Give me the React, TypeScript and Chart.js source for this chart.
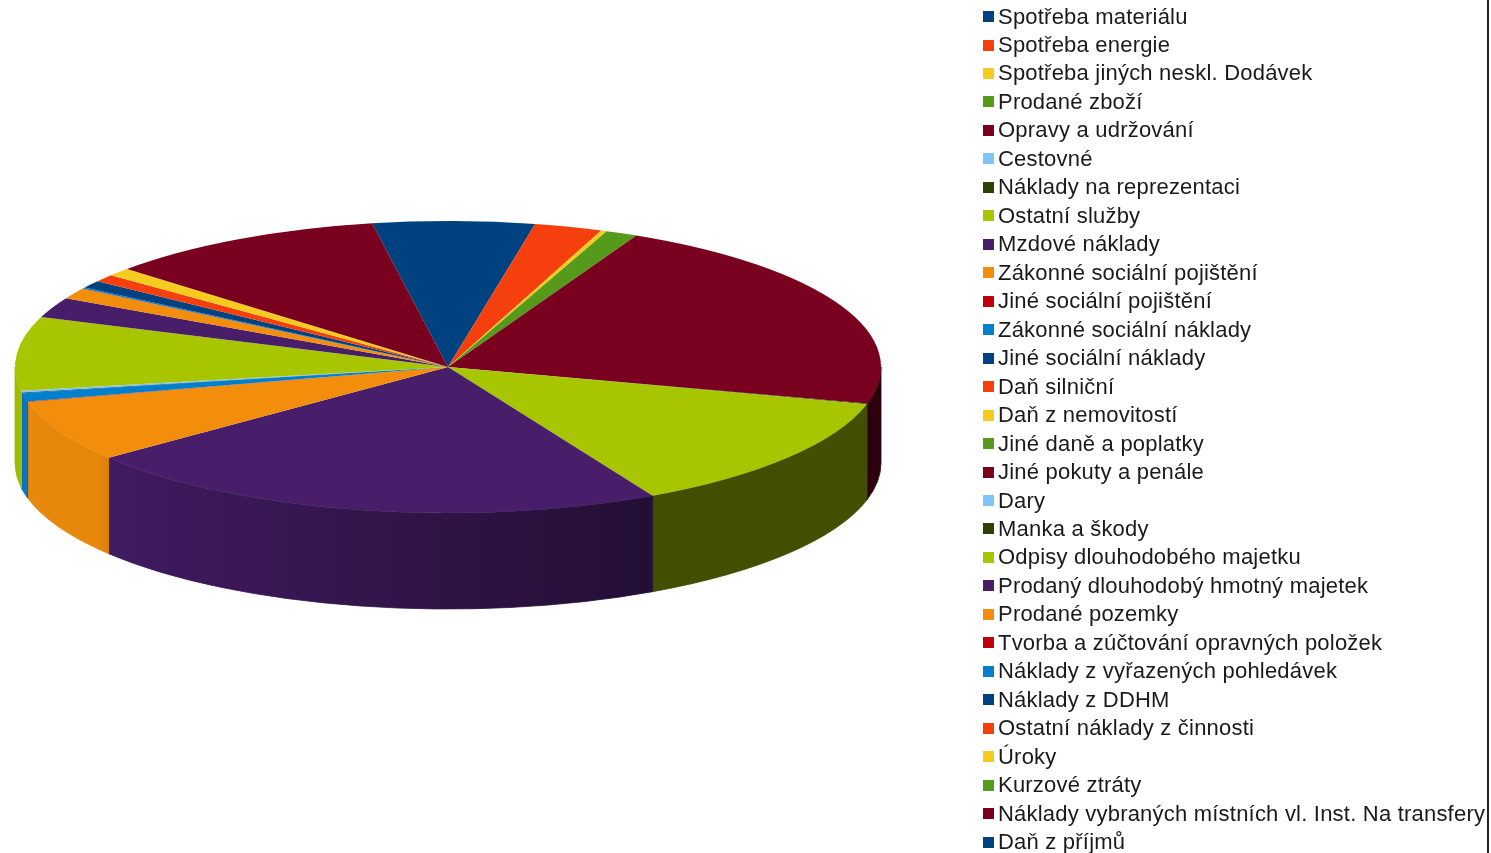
import React, { useEffect, useRef } from "react";
import { Chart, registerables } from "chart.js";

Chart.register(...registerables);

const categories = [
  "Spotřeba materiálu", "Spotřeba energie", "Spotřeba jiných neskl. Dodávek", "Prodané zboží",
  "Opravy a udržování", "Cestovné", "Náklady na reprezentaci", "Ostatní služby", "Mzdové náklady",
  "Zákonné sociální pojištění", "Jiné sociální pojištění", "Zákonné sociální náklady",
  "Jiné sociální náklady", "Daň silniční", "Daň z nemovitostí", "Jiné daně a poplatky",
  "Jiné pokuty a penále", "Dary", "Manka a škody", "Odpisy dlouhodobého majetku",
  "Prodaný dlouhodobý hmotný majetek", "Prodané pozemky", "Tvorba a zúčtování opravných položek",
  "Náklady z vyřazených pohledávek", "Náklady z DDHM", "Ostatní náklady z činnosti", "Úroky",
  "Kurzové ztráty", "Náklady vybraných místních vl. Inst. Na transfery", "Daň z příjmů",
];
const values = [
  6.03, 2.53, 0.22, 1.19, 21.86, 0.01, 0.06, 13.07, 22.17, 6.81, 0.06, 0.92, 0.08, 0, 0, 0, 0,
  0.2, 0, 8.15, 2.25, 1.19, 0.03, 0.14, 0.83, 0.81, 0.91, 0, 10.48, 0,
];
const palette = [
  "#00427f", "#f5400e", "#f5cb1f", "#559a1b", "#7a0020", "#7fc4f7",
  "#304004", "#a8c600", "#481e6b", "#f38e0d", "#bf000b", "#0080ca",
];
const lastColor = "#00427f";
const colors = categories.map((_, i) => (i === 29 ? lastColor : palette[i % palette.length]));

const CX = 448, CY = 367, RX = 433, RY = 146, DEPTH = 96;

function shade(hex: string, f: number) {
  const n = parseInt(hex.slice(1), 16);
  return `rgb(${((n >> 16) & 255) * f},${((n >> 8) & 255) * f},${(n & 255) * f})`;
}
// brightness of the side wall against horizontal position on the rim (-1 left … 1 right)
function wallB(u: number) {
  if (u < -0.785) return 0.95;
  if (u < 0.473) return 0.9 + ((0.49 - 0.9) * (u + 0.785)) / 1.258;
  if (u < 0.965) return 0.4;
  return 0.36;
}

const pie3d = {
  id: "pie3d",
  beforeDatasetsDraw(chart: any) {
    const ctx = chart.ctx;
    const arcs = chart.getDatasetMeta(0).data;
    ctx.save();
    arcs.forEach((arc: any, i: number) => {
      const a1 = Math.max(arc.startAngle, 0);
      const a2 = Math.min(arc.endAngle, Math.PI);
      if (arc.circumference <= 0 || a2 <= a1) return;
      const x1 = CX + RX * Math.cos(a1), x2 = CX + RX * Math.cos(a2);
      const mid = (x1 + x2) / 2;
      const g = ctx.createLinearGradient(x2, 0, x1, 0);
      const steps = 8;
      for (let s = 0; s <= steps; s++) {
        const t = s / steps;
        const x = x2 + (x1 - x2) * t;
        // samples stay inside the slice so one slice never picks up its neighbour's shade
        const inset = x + (mid - x) * 0.01;
        g.addColorStop(t, shade(colors[i], wallB((inset - CX) / RX)));
      }
      ctx.beginPath();
      ctx.ellipse(CX, CY, RX, RY, 0, a1, a2);
      ctx.ellipse(CX, CY + DEPTH, RX, RY, 0, a2, a1, true);
      ctx.closePath();
      ctx.fillStyle = g;
      ctx.strokeStyle = g;
      ctx.lineWidth = 0.8;
      ctx.fill();
      ctx.stroke();
    });
    ctx.restore();
    const c = arcs[0];
    ctx.save();
    ctx.translate(CX, CY);
    ctx.scale(RX / c.outerRadius, RY / c.outerRadius);
    ctx.translate(-c.x, -c.y);
  },
  afterDatasetsDraw(chart: any) {
    chart.ctx.restore();
  },
};

export default function App() {
  const ref = useRef<HTMLCanvasElement>(null);
  useEffect(() => {
    document.body.style.margin = "0";
    document.body.style.overflow = "hidden";
    const chart = new Chart(ref.current!, {
      type: "pie",
      data: {
        labels: categories,
        datasets: [{ data: values, backgroundColor: colors, borderWidth: 0, clip: false } as any],
      },
      options: {
        responsive: false,
        animation: false,
        rotation: -10.1,
        plugins: { legend: { display: false }, tooltip: { enabled: false } },
      },
      plugins: [pie3d],
    });
    return () => chart.destroy();
  }, []);
  return (
    <div style={{ position: "relative", width: 1491, height: 853, overflow: "hidden", background: "#fff" }}>
      <canvas ref={ref} width={1491} height={853} style={{ position: "absolute", left: 0, top: 0 }} />
      <div style={{ position: "absolute", left: 1487, top: 0, width: 2, height: 853, background: "#222" }} />
      <div style={{ position: "absolute", left: 983, top: 2.3 }}>
        {categories.map((c, i) => (
          <div key={c} style={{ height: 28.48, display: "flex", alignItems: "center", whiteSpace: "nowrap" }}>
            <span style={{ width: 11, height: 11, background: colors[i], marginRight: 4, flex: "none" }} />
            <span style={{ font: '22px "Liberation Sans", Arial, sans-serif', letterSpacing: 0.21, color: "#1a1a1a" }}>{c}</span>
          </div>
        ))}
      </div>
    </div>
  );
}
